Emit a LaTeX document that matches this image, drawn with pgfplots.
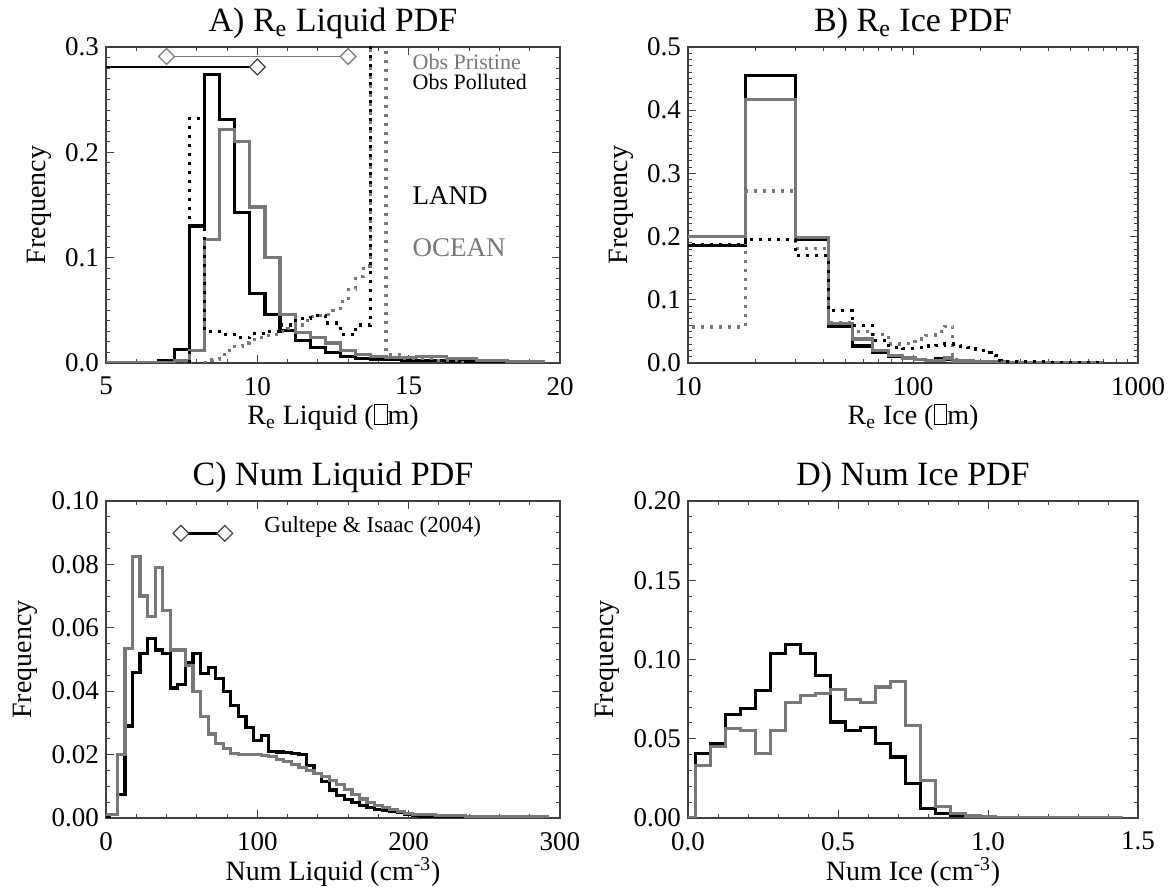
\documentclass[border=0pt]{standalone}
\usepackage{fontspec}
\setmainfont{Liberation Serif}
\usepackage{pgfplots}
\pgfplotsset{compat=1.18}

\definecolor{gline}{gray}{0.47}
\newcommand\mubox{{\setlength{\fboxsep}{0pt}\setlength{\fboxrule}{0.5pt}\fbox{\rule{0pt}{0.68em}\hspace{0.42em}}}}

\pgfplotsset{
  idl/.style={
    scale only axis,
    anchor=south west,
    axis line style={line width=0.6pt, black!75},
    tick align=inside,
    major tick length=4pt,
    minor tick length=2pt,
    every tick/.style={black!75, line width=0.5pt},
    /pgf/number format/assume math mode=true,
    tick label style={font=\fontsize{13.5}{13.5}\selectfont},
    xticklabel style={yshift=-3.5pt},
    label style={font=\fontsize{14}{14}\selectfont},
    xlabel style={at={(axis description cs:0.5,0)}, anchor=center, yshift=-27pt},
    every axis title/.style={font=\fontsize{17}{17}\selectfont, at={(0.5,1)}, anchor=center, yshift=12pt},
    ylabel={Frequency},
  },
  land/.style={const plot, black, line width=1.6pt, no marks},
  ocean/.style={const plot, gline, line width=1.6pt, no marks},
  landdot/.style={const plot, black, line width=1.6pt, dash pattern=on 1.5pt off 3pt, no marks},
  oceandot/.style={const plot, gline, line width=1.6pt, dash pattern=on 1.5pt off 3pt, no marks},
  dia/.style={mark=square*, mark size=2.8pt, mark options={rotate=45, fill=white, draw=#1, solid, line width=0.6pt}},
  dia/.default=gline,
}

\begin{document}
\begin{tikzpicture}
\path[use as bounding box] (0,0) rectangle (584.5pt,443.5pt);

% A) Re liquid
\begin{axis}[idl, at={(53pt,262pt)}, width=227pt, height=158pt,
  xmin=5, xmax=20, ymin=0, ymax=0.3,
  xtick={5,10,15,20}, minor x tick num=4,
  ytick={0,0.1,0.2,0.3}, minor y tick num=9,
  yticklabel style={/pgf/number format/.cd, fixed, fixed zerofill, precision=1},
  title={A) R\textsubscript{e} Liquid PDF},
  xlabel={R\textsubscript{e} Liquid (\mubox m)}]
\addplot[land] coordinates {
(5.0,0) (6.75,0.002) (7.25,0.013) (7.75,0.130) (8.25,0.274) (8.75,0.231)
(9.25,0.143) (9.75,0.066) (10.25,0.046) (10.75,0.031) (11.25,0.021)
(11.75,0.015) (12.25,0.010) (12.75,0.006) (13.25,0.004) (13.75,0.003)
(14.75,0.002) (16.25,0.001) (17.75,0) (19.5,0)};
\addplot[ocean] coordinates {
(5.0,0) (7.25,0.002) (7.75,0.012) (8.25,0.117) (8.75,0.222) (9.25,0.210)
(9.75,0.148) (10.25,0.100) (10.75,0.046) (11.25,0.029) (11.75,0.024)
(12.25,0.019) (12.75,0.012) (13.25,0.008) (13.75,0.006) (14.25,0.005)
(15.25,0.006) (16.25,0.004) (17.25,0.002) (18.25,0.001) (19.5,0.001)};
\addplot[oceandot] coordinates {
(8.25,0) (8.5,0.003) (8.75,0.008) (9.0,0.012) (9.25,0.016) (9.5,0.019)
(9.75,0.022) (10.0,0.024) (10.25,0.026) (10.5,0.027) (10.75,0.030)
(11.0,0.033) (11.25,0.036) (11.5,0.040) (11.75,0.044) (12.0,0.045)
(12.25,0.046) (12.5,0.050) (12.75,0.058) (13.0,0.070) (13.25,0.082)
(13.5,0.092) (13.75,0.6) (14.25,0.008) (14.75,0.004) (15.75,0.002) (16.75,0) (17.0,0)};
\addplot[landdot] coordinates {
(7.75,0) (7.75,0.232) (8.25,0.030) (8.75,0.027) (9.25,0.024) (9.75,0.028)
(10.25,0.030) (10.75,0.036) (11.25,0.042) (11.75,0.045) (12.25,0.038)
(12.75,0.027) (13.25,0.036) (13.75,0.6) (14.0,0.6)};
\addplot[gline, line width=0.8pt, dia] coordinates {(7,0.291) (13,0.291)};
\addplot[black, line width=1.4pt] coordinates {(4,0.281) (10,0.281)};
\addplot[only marks, dia=black!75] coordinates {(10,0.281)};
\node[anchor=west, gline, font=\fontsize{11}{11}\selectfont] at (axis cs:14.9,0.286) {Obs Pristine};
\node[anchor=west, black, font=\fontsize{11}{11}\selectfont] at (axis cs:14.9,0.267) {Obs Polluted};
\node[anchor=west, black, font=\fontsize{13.5}{13.5}\selectfont] at (axis cs:14.9,0.159) {LAND};
\node[anchor=west, gline, font=\fontsize{13.5}{13.5}\selectfont] at (axis cs:14.9,0.109) {OCEAN};
\end{axis}

% B) Re ice
\begin{axis}[idl, at={(344pt,262pt)}, width=225pt, height=158pt,
  xmode=log, xmin=10, xmax=1000, ymin=0, ymax=0.5,
  xtick={10,100,1000}, xticklabels={10,100,1000},
  ytick={0,0.1,0.2,0.3,0.4,0.5}, minor y tick num=9,
  yticklabel style={/pgf/number format/.cd, fixed, fixed zerofill, precision=1},
  title={B) R\textsubscript{e} Ice PDF},
  xlabel={R\textsubscript{e} Ice (\mubox m)}]
\addplot[land] coordinates {
(6,0.186) (18,0.455) (30,0.195) (42,0.058) (54,0.027) (66,0.016) (78,0.011)
(90,0.007) (102,0.005) (114,0.004) (126,0.007) (138,0.005) (150,0.002)
(186,0.0015) (258,0.001) (400,0.0005) (700,0.0005)};
\addplot[ocean] coordinates {
(6,0.200) (18,0.417) (30,0.198) (42,0.062) (54,0.038) (66,0.020) (78,0.012)
(90,0.008) (102,0.006) (114,0.004) (126,0.004) (138,0.008) (150,0.003)
(186,0.002) (258,0.001) (400,0.0005) (700,0.0005)};
\addplot[oceandot] coordinates {
(6,0.057) (18,0.272) (30,0.181) (42,0.064) (54,0.050) (66,0.045) (78,0.030)
(90,0.031) (102,0.038) (114,0.044) (126,0.050) (138,0.058) (150,0.005)
(162,0.003) (200,0.002) (300,0.001) (700,0.001)};
\addplot[landdot] coordinates {
(6,0.187) (18,0.195) (30,0.170) (42,0.083) (54,0.059) (66,0.035) (78,0.025)
(90,0.023) (102,0.024) (114,0.027) (126,0.028) (138,0.030) (150,0.030)
(162,0.027) (174,0.025) (186,0.022) (198,0.020) (210,0.016) (222,0.012)
(234,0.004) (246,0.002) (400,0.001) (700,0.001)};
\end{axis}

% C) Num liquid
\begin{axis}[idl, at={(53pt,34.5pt)}, width=227pt, height=158.5pt,
  xmin=0, xmax=300, ymin=0, ymax=0.1,
  xtick={0,100,200,300}, minor x tick num=4,
  ytick={0,0.02,0.04,0.06,0.08,0.10}, minor y tick num=3,
  yticklabel style={/pgf/number format/.cd, fixed, fixed zerofill, precision=2},
  title={C) Num Liquid PDF},
  xlabel={Num Liquid (cm\textsuperscript{-3})}]
\addplot[land] coordinates {
(0,0) (2.5,0.001) (7.5,0.0074) (12.5,0.029) (17.5,0.046) (22.5,0.052)
(27.5,0.0566) (32.5,0.053) (37.5,0.052) (42.5,0.041) (47.5,0.042)
(52.5,0.049) (57.5,0.052) (62.5,0.0455) (67.5,0.0475) (72.5,0.044)
(77.5,0.040) (82.5,0.0355) (87.5,0.032) (92.5,0.0285) (97.5,0.0245)
(102.5,0.026) (107.5,0.021) (112.5,0.0208) (117.5,0.0206) (122.5,0.0204)
(127.5,0.020) (132.5,0.0166) (137.5,0.014) (142.5,0.0115) (147.5,0.0088)
(152.5,0.0072) (157.5,0.0058) (162.5,0.0048) (167.5,0.004) (172.5,0.0034)
(177.5,0.0028) (182.5,0.0024) (187.5,0.0022) (192.5,0.0018) (197.5,0.0012)
(202.5,0.0008) (207.5,0.0006) (217.5,0.0004) (237.5,0.0003) (257.5,0.0002)
(292.5,0.0002)};
\addplot[ocean] coordinates {
(0,0.001) (7.5,0.020) (12.5,0.0535) (17.5,0.0826) (22.5,0.070) (27.5,0.0635)
(32.5,0.079) (37.5,0.0655) (42.5,0.053) (47.5,0.053) (52.5,0.048)
(57.5,0.040) (62.5,0.032) (67.5,0.0265) (72.5,0.0235) (77.5,0.022)
(82.5,0.0203) (87.5,0.020) (92.5,0.020) (97.5,0.020) (102.5,0.0198)
(107.5,0.0193) (112.5,0.0185) (117.5,0.0178) (122.5,0.0168) (127.5,0.016)
(132.5,0.015) (137.5,0.014) (142.5,0.013) (147.5,0.0118) (152.5,0.0105)
(157.5,0.009) (162.5,0.0075) (167.5,0.006) (172.5,0.005) (177.5,0.004)
(182.5,0.0032) (187.5,0.0026) (192.5,0.002) (197.5,0.0015) (202.5,0.0012)
(207.5,0.001) (217.5,0.0007) (237.5,0.0005) (257.5,0.0004) (277.5,0.0003)
(292.5,0.0003)};
\addplot[black, line width=1.2pt, dia=black!75] coordinates {(49.5,0.0898) (78.5,0.0898)};
\node[anchor=west, font=\fontsize{11.5}{11.5}\selectfont] at (axis cs:100,0.0917) {Gultepe \& Isaac (2004)};
\end{axis}

% D) Num ice
\begin{axis}[idl, at={(344pt,34.5pt)}, width=225pt, height=158.5pt,
  xmin=0, xmax=1.5, ymin=0, ymax=0.2,
  xtick={0,0.5,1.0,1.5}, minor x tick num=4,
  xticklabel style={/pgf/number format/.cd, fixed, fixed zerofill, precision=1},
  ytick={0,0.05,0.10,0.15,0.20}, minor y tick num=4,
  yticklabel style={/pgf/number format/.cd, fixed, fixed zerofill, precision=2},
  title={D) Num Ice PDF},
  xlabel={Num Ice (cm\textsuperscript{-3})}]
\addplot[land] coordinates {
(0,0) (0.025,0.0406) (0.075,0.047) (0.125,0.0655) (0.175,0.069) (0.225,0.0806)
(0.275,0.1038) (0.325,0.1097) (0.375,0.1038) (0.425,0.090) (0.475,0.0606)
(0.525,0.0554) (0.575,0.057) (0.625,0.047) (0.675,0.0385) (0.725,0.0217)
(0.775,0.006) (0.825,0.0027) (0.875,0.0017) (0.925,0.0008) (0.975,0.0005)
(1.075,0.0003) (1.45,0.0003)};
\addplot[ocean] coordinates {
(0,0) (0.025,0.033) (0.075,0.045) (0.125,0.0564) (0.175,0.055) (0.225,0.0406)
(0.275,0.055) (0.325,0.073) (0.375,0.0775) (0.425,0.0785) (0.475,0.081)
(0.525,0.075) (0.575,0.073) (0.625,0.0827) (0.675,0.086) (0.725,0.0585)
(0.775,0.0238) (0.825,0.007) (0.875,0.0027) (0.925,0.0013) (0.975,0.0008)
(1.025,0.0005) (1.45,0.0005)};
\end{axis}
\end{tikzpicture}
\end{document}
